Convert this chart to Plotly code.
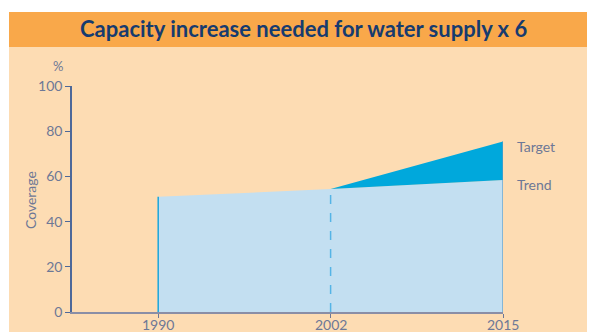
import plotly.graph_objects as go

years = ["1990", "2002", "2015"]
trend = [51, 54.4, 58.4]
target_years = ["2002", "2015"]
target = [54.4, 75.4]
y_ticks = [0, 20, 40, 60, 80, 100]

pos = {y: i for i, y in enumerate(years)}
xs = [pos[y] for y in years]
txs = [pos[y] for y in target_years]

# page offset from default body margin
OX, OY = 8, 8
W, H = 595 - OX, 332 - OY
# desired screen positions of plot area
L, R, T, B = 72, 503, 86, 312
def px(x): return (x - L) / (R - L)
def py(y): return (B - y) / (B - T)

tick_col = "#6d7896"
fig = go.Figure()

fig.add_trace(go.Scatter(x=xs, y=trend, fill="tozeroy", fillcolor="#c3dff1",
                         line=dict(width=0), mode="lines", hoverinfo="skip"))
fig.add_trace(go.Scatter(x=txs + txs[::-1], y=target + trend[-len(txs):][::-1],
                         fill="toself", fillcolor="#00a8dc", line=dict(width=0, color="#00a8dc"),
                         mode="lines", hoverinfo="skip"))
fig.add_trace(go.Scatter(x=[xs[0], xs[0]], y=[0, trend[0]], mode="lines",
                         line=dict(color="#1aa6dc", width=1.5), hoverinfo="skip"))
fig.add_trace(go.Scatter(x=[xs[1], xs[1]], y=[0, trend[1]], mode="lines",
                         line=dict(color="#55b4e6", width=1.5, dash="dash"), hoverinfo="skip"))
fig.add_trace(go.Scatter(x=[xs[2], xs[2]], y=[0, target[-1]], mode="lines",
                         line=dict(color="#5b9cc6", width=1.2), hoverinfo="skip"))

shapes = [
    dict(type="rect", xref="paper", yref="paper", x0=px(9), x1=px(600), y0=py(340), y1=py(47),
         fillcolor="#fddcb3", line=dict(width=0), layer="below"),
    dict(type="rect", xref="paper", yref="paper", x0=px(9), x1=px(600), y0=py(47), y1=py(12),
         fillcolor="#f9a84a", line=dict(width=0), layer="below"),
]

annotations = [
    dict(text="<b>Capacity increase needed for water supply x 6</b>", xref="paper", yref="paper",
         x=px(303), y=py(29), showarrow=False, xanchor="center", yanchor="middle",
         font=dict(family="Lato", size=22, color="#163b6f", weight=900)),
    dict(text="%", xref="paper", yref="paper", x=px(58), y=py(66), showarrow=False,
         xanchor="center", yanchor="middle", font=dict(family="Lato", size=13, color=tick_col)),
    dict(text="Coverage", xref="paper", yref="paper", x=px(30), y=py(200), showarrow=False,
         textangle=-90, xanchor="center", yanchor="middle",
         font=dict(family="Lato", size=14, color=tick_col)),
    dict(text="Target", x=xs[2], y=target[-1], xref="x", yref="y", showarrow=False,
         xanchor="left", yanchor="middle", xshift=12, yshift=-5,
         font=dict(family="Lato", size=14, color=tick_col)),
    dict(text="Trend", x=xs[2], y=trend[-1], xref="x", yref="y", showarrow=False,
         xanchor="left", yanchor="middle", xshift=12, yshift=-4,
         font=dict(family="Lato", size=14, color=tick_col)),
]
for xv, label in zip(xs, years):
    annotations.append(dict(text=label, x=xv, y=0, xref="x", yref="y", showarrow=False,
                            xanchor="center", yanchor="middle", yshift=-12,
                            font=dict(family="Lato", size=14, color=tick_col)))

fig.update_layout(
    width=W, height=H, autosize=False,
    margin=dict(l=L - OX, r=W - (R - OX), t=T - OY, b=H - (B - OY), pad=0),
    paper_bgcolor="white", plot_bgcolor="rgba(0,0,0,0)",
    showlegend=False, shapes=shapes, annotations=annotations,
    xaxis=dict(range=[-0.5, 2], tickvals=xs, ticktext=years, showticklabels=False,
               showgrid=False, zeroline=False,
               showline=True, linecolor="#8a8ea6", linewidth=2, ticks="outside", ticklen=4,
               tickcolor="#6d7896", automargin=False, fixedrange=True),
    yaxis=dict(range=[0, 100], tickvals=y_ticks, showgrid=False, zeroline=False,
               showline=True, linecolor="#4d6899", linewidth=1.5, ticks="outside", ticklen=5,
               tickcolor="#4d6899", tickfont=dict(family="Lato", size=14, color=tick_col),
               automargin=False, fixedrange=True),
)

fig.write_html("out.html")
